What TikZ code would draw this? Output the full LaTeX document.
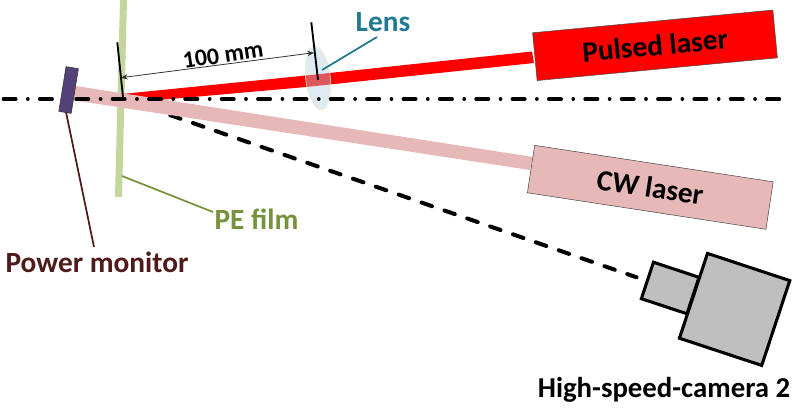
\documentclass[tikz,border=0pt]{standalone}
\usepackage{fontspec}
\setmainfont{Carlito}
\usetikzlibrary{shapes.geometric,arrows.meta}
\definecolor{filmgreen}{HTML}{C3D69B}
\definecolor{pinkbeam}{HTML}{E6B9B8}
\definecolor{monitorpurple}{HTML}{55417A}
\definecolor{lensblue}{HTML}{B0D0E0}
\definecolor{lensedge}{HTML}{F5EFC0}
\definecolor{lensteal}{HTML}{1F7A92}
\definecolor{filmolive}{HTML}{76923C}
\definecolor{monitorred}{HTML}{4F1A1A}
\definecolor{cameragray}{HTML}{BFBFBF}
\tikzset{
    labeltext/.style = {font=\bfseries\fontsize{22}{26}\selectfont},
    laserbox/.style = {draw=black!70, thin, minimum width=181pt, minimum height=36pt, inner sep=0pt, labeltext},
    camerabox/.style = {draw=black, line width=2.3pt, fill=cameragray, inner sep=0pt},
    mirrorline/.style = {line width=1.4pt},
    leader/.style = {line width=1.3pt},
}
\begin{document}
\begin{tikzpicture}[x=0.75pt,y=-0.75pt,>={Stealth[length=5pt,width=4pt]}]
    \useasboundingbox (0,0) rectangle (800,408);

    \fill [filmgreen] (120,0) -- (127,0) -- (122,197) -- (115,197) -- cycle;

    % camera
    \coordinate (camstart) at (124.4,99.2);
    \coordinate (camend) at (636.5,277.3);
    \draw [line width=3pt, line cap=round, dash pattern=on 8.3pt off 9.85pt] (camstart) -- (camend);
    \node [camerabox, minimum width=36pt, minimum height=28.8pt, rotate=-18.3] (camlens) at (670.2,288) {};
    \node [camerabox, minimum width=65pt, minimum height=67pt, rotate=-18.3] (cambody) at (734.6,309.4) {};

    % beams
    \fill [red] (122,94) -- (306,75.5) -- (532,51.5) -- (534,63) -- (306,87) -- (125,103) -- cycle;
    \fill [pinkbeam] (76,86) -- (72,100) -- (530,170) -- (533,157) -- cycle;
    \node [laserbox, fill=pinkbeam, rotate=-8.7] (cw) at (650.3,187.3) {CW laser};
    \node [draw=lensedge, fill=lensblue, fill opacity=0.42, shape=ellipse, minimum width=18.5pt, minimum height=48pt, inner sep=0pt, rotate=6] (lens) at (318,78) {};
    \node [laserbox, fill=red, rotate=5.4] (pulsed) at (655,45.3) {Pulsed laser};

    % optical axis
    \draw [line width=2.8pt, line cap=round, dash pattern=on 9.2pt off 9.1pt on 0.01pt off 8.96pt] (3.45,99) -- (790,99);

    \node [draw=black!80, fill=monitorpurple, minimum width=9.4pt, minimum height=34pt, inner sep=0pt, rotate=-9.2] (monitor) at (68.6,90) {};

    % mirror lines and distance
    \coordinate (filmtop) at (117.3,42.3);
    \coordinate (filmbot) at (123.3,100);
    \coordinate (lenstop) at (311.3,22.3);
    \coordinate (lensbot) at (318,80);
    \draw [mirrorline] (filmtop) -- (filmbot);
    \draw [mirrorline] (lenstop) -- (lensbot);
    \coordinate (gapleft) at (121,77.7);
    \coordinate (gapright) at (314,52.7);
    \draw [<->, black!80, line width=0.6pt] (gapleft) -- (gapright);
    \node [font=\bfseries\fontsize{18}{21}\selectfont, rotate=8.5] (dist) at (223,55) {100 mm};

    % labels
    \node [text=lensteal, labeltext] (lenslabel) at (383,22) {Lens};
    \coordinate (lensfoot) at (322,70);
    \coordinate (lenshead) at (377,37);
    \draw [lensteal, leader] (lensfoot) -- (lenshead);

    \node [text=filmolive, labeltext] (filmlabel) at (256.5,219) {PE film};
    \coordinate (filmfoot) at (122,176);
    \coordinate (filmhead) at (213,212);
    \draw [filmolive, leader] (filmfoot) -- (filmhead);

    \node [text=monitorred, labeltext] (monitorlabel) at (97,262) {Power monitor};
    \coordinate (monfoot) at (66,112);
    \coordinate (monhead) at (94,247);
    \draw [monitorred, leader] (monfoot) -- (monhead);

    \node [font=\bfseries\fontsize{21.6}{26}\selectfont] (camlabel) at (664,390) {High-speed-camera 2};
\end{tikzpicture}
\end{document}
